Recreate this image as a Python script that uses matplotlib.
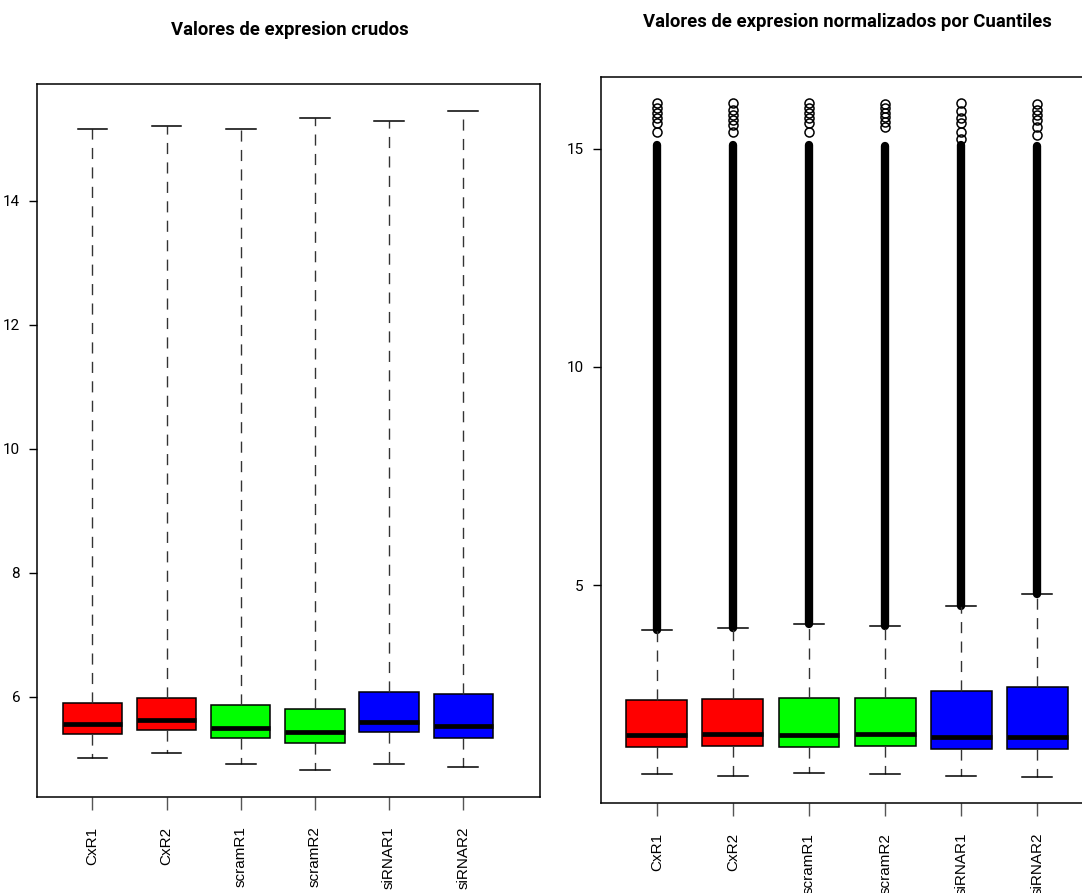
import matplotlib
matplotlib.use('Agg')
import matplotlib.pyplot as plt
from matplotlib import font_manager

samples = ['CxR1', 'CxR2', 'scramR1', 'scramR2', 'siRNAR1', 'siRNAR2']
colores = ['#ff0000', '#ff0000', '#00ff00', '#00ff00', '#0000ff', '#0000ff']

# valores crudos: bigote inferior, Q1, mediana, Q3, bigote superior
raw_whislo = [5.01, 5.10, 4.91, 4.82, 4.91, 4.87]
raw_q1 = [5.40, 5.46, 5.33, 5.26, 5.44, 5.33]
raw_med = [5.57, 5.62, 5.50, 5.44, 5.60, 5.53]
raw_q3 = [5.90, 5.99, 5.87, 5.81, 6.08, 6.05]
raw_whishi = [15.16, 15.21, 15.16, 15.34, 15.29, 15.45]

# valores normalizados por cuantiles
norm_whislo = [0.68, 0.63, 0.71, 0.69, 0.63, 0.62]
norm_q1 = [1.30, 1.31, 1.30, 1.31, 1.26, 1.24]
norm_med = [1.57, 1.59, 1.57, 1.59, 1.53, 1.52]
norm_q3 = [2.37, 2.40, 2.43, 2.42, 2.57, 2.67]
norm_whishi = [3.98, 4.03, 4.12, 4.07, 4.53, 4.79]

# zona densa de outliers (desde el bigote hasta aqui) y outliers sueltos por encima
norm_dense_top = [15.08, 15.08, 15.08, 15.06, 15.08, 15.06]
norm_outliers = [
    [15.39, 15.58, 15.69, 15.81, 15.92, 16.05],
    [15.39, 15.55, 15.66, 15.78, 15.88, 16.05],
    [15.39, 15.58, 15.69, 15.81, 15.92, 16.05],
    [15.50, 15.62, 15.72, 15.82, 15.92, 16.02],
    [15.22, 15.39, 15.58, 15.70, 15.85, 16.05],
    [15.32, 15.50, 15.65, 15.78, 15.88, 16.02],
]

available = {f.name for f in font_manager.fontManager.ttflist}
narrow = 'Liberation Sans Narrow' if 'Liberation Sans Narrow' in available else 'Roboto'
plt.rcParams['font.family'] = ['Liberation Sans', 'DejaVu Sans']


def make_stats(whislo, q1, med, q3, whishi, fliers=None):
    stats = []
    for i in range(len(samples)):
        stats.append({
            'whislo': whislo[i], 'q1': q1[i], 'med': med[i], 'q3': q3[i],
            'whishi': whishi[i],
            'fliers': fliers[i] if fliers is not None else [],
        })
    return stats


def draw_box(ax, stats, yticks):
    positions = range(1, len(samples) + 1)
    bp = ax.bxp(
        stats, positions=positions, widths=0.8, patch_artist=True,
        showfliers=True, capwidths=0.4,
        boxprops=dict(edgecolor='black', linewidth=1.1),
        medianprops=dict(color='black', linewidth=3.4, solid_capstyle='butt'),
        whiskerprops=dict(color='#333333', linewidth=1.0, linestyle=(0, (8, 6))),
        capprops=dict(color='black', linewidth=1.1),
        flierprops=dict(marker='o', markersize=6.5, markerfacecolor='none',
                        markeredgecolor='black', markeredgewidth=1.1),
    )
    for patch, c in zip(bp['boxes'], colores):
        patch.set_facecolor(c)
    ax.set_xticks(list(positions))
    ax.set_xticklabels(samples, rotation=90, fontsize=11, va='top')
    ax.set_yticks(yticks)
    ax.set_yticklabels([str(t) for t in yticks], fontsize=11, family=narrow)
    ax.tick_params(axis='y', length=5.8, width=1.0, pad=6.5)
    ax.tick_params(axis='x', length=9.5, width=1.0, pad=12, colors='#555555',
                   labelcolor='black')
    for s in ax.spines.values():
        s.set_linewidth(1.1)
        s.set_color('black')
    return bp


fig = plt.figure(figsize=(10.82, 8.93), dpi=100)

ax1 = fig.add_axes([0.0345, 0.1078, 0.4649, 0.7978])
draw_box(ax1, make_stats(raw_whislo, raw_q1, raw_med, raw_q3, raw_whishi), [6, 8, 10, 12, 14])
ax1.set_xlim(0.258, 7.04)
ax1.set_ylim(4.39, 15.88)

ax2 = fig.add_axes([0.5552, 0.1008, 0.4555, 0.8130])
# zona densa de outliers dibujada como columna continua
for i in range(len(samples)):
    ax2.plot([i + 1, i + 1], [norm_whishi[i], norm_dense_top[i]], color='black',
             linewidth=6, solid_capstyle='round', zorder=1)
draw_box(ax2, make_stats(norm_whislo, norm_q1, norm_med, norm_q3, norm_whishi,
                         norm_outliers), [5, 10, 15])
ax2.set_xlim(0.263, 6.74)
ax2.set_ylim(0.015, 16.64)

fig.text(290 / 1082, 1 - 30 / 893, 'Valores de expresion crudos', ha='center',
         va='center', fontsize=13.3, fontweight='bold', family=narrow)
fig.text(847 / 1082, 1 - 22 / 893, 'Valores de expresion normalizados por Cuantiles',
         ha='center', va='center', fontsize=13.3, fontweight='bold', family=narrow)

fig.savefig('out.png', dpi=100)
